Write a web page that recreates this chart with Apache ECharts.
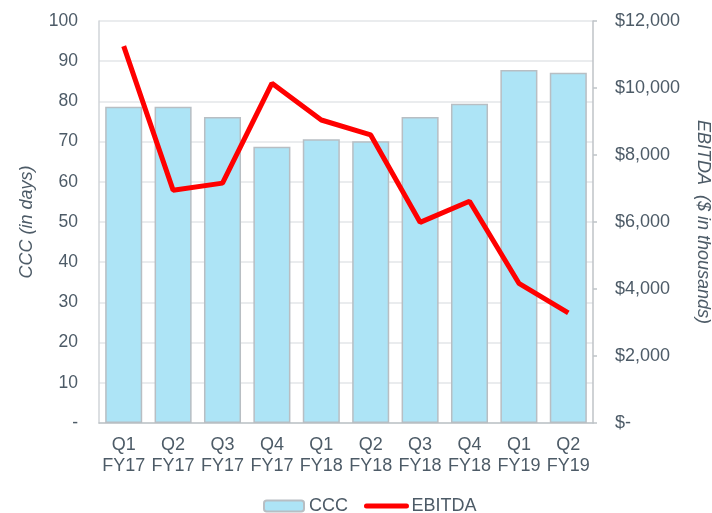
<!DOCTYPE html>
<html>
<head>
<meta charset="utf-8">
<script src="https://cdn.jsdelivr.net/npm/echarts@6/dist/echarts.min.js"></script>
<style>html,body{margin:0;padding:0;background:#fff}#c{width:712px;height:513px}</style>
</head>
<body>
<div id="c"></div>
<script>
const categories = ["Q1\nFY17","Q2\nFY17","Q3\nFY17","Q4\nFY17","Q1\nFY18","Q2\nFY18","Q3\nFY18","Q4\nFY18","Q1\nFY19","Q2\nFY19"];
const cccDays = [78.7, 78.7, 76.1, 68.7, 70.6, 70.1, 76.1, 79.4, 87.8, 87.1];
const ebitda = [11250, 6950, 7160, 10140, 9045, 8600, 5990, 6620, 4170, 3290];

const txt = '#4d5b67';
const font = 'Liberation Sans, Arial, sans-serif';
const chart = echarts.init(document.getElementById('c'));
chart.setOption({
  animation: false,
  textStyle: {fontFamily: font},
  grid: {left: 99, right: 119, top: 21, bottom: 90, containLabel: false, outerBoundsMode: 'none'},
  legend: {
    left: 263, top: 497, padding: 0, itemWidth: 40, itemHeight: 11, itemGap: 16,
    textStyle: {color: txt, fontSize: 18, fontFamily: font},
    data: [{name: 'CCC'}, {name: 'EBITDA', itemStyle: {opacity: 0}, lineStyle: {width: 5, cap: 'round', color: '#ff0000'}}]
  },
  xAxis: {
    type: 'category', data: categories,
    axisLine: {lineStyle: {color: '#bfc3c7', width: 1.5}},
    axisTick: {show: false},
    axisLabel: {color: txt, fontSize: 18, lineHeight: 21, margin: 12, interval: 0, fontFamily: font}
  },
  yAxis: [{
    type: 'value', min: 0, max: 100, interval: 10,
    name: 'CCC (in days)', nameLocation: 'middle', nameGap: 63, nameRotate: 90,
    nameTextStyle: {color: txt, fontSize: 18, fontStyle: 'italic', fontFamily: font},
    axisLine: {show: true, lineStyle: {color: '#d0d4d8', width: 1.5}},
    axisTick: {show: false},
    splitLine: {lineStyle: {color: '#e3e6e9', width: 1.5}},
    axisLabel: {color: txt, fontSize: 17.5, margin: 21, fontFamily: font,
      formatter: v => v === 0 ? '-' : String(v)}
  }, {
    type: 'value', min: 0, max: 12000, interval: 2000, position: 'right',
    name: 'EBITDA  ($ in thousands)', nameLocation: 'middle', nameGap: 101, nameRotate: -90,
    nameTextStyle: {color: txt, fontSize: 18, fontStyle: 'italic', fontFamily: font},
    axisLine: {show: true, lineStyle: {color: '#bfc3c7', width: 1.5}},
    axisTick: {show: true, length: 4, lineStyle: {color: '#bfc3c7', width: 1.5}},
    splitLine: {show: false},
    axisLabel: {color: txt, fontSize: 18, margin: 22, fontFamily: font,
      formatter: v => v === 0 ? '$-' : '$' + v.toLocaleString('en-US')}
  }],
  series: [{
    name: 'CCC', type: 'bar', data: cccDays, barWidth: '75%',
    itemStyle: {color: '#ade4f6', borderColor: '#b8bec3', borderWidth: 1.5}
  }, {
    name: 'EBITDA', type: 'line', yAxisIndex: 1, data: ebitda,
    symbol: 'none', lineStyle: {color: '#ff0000', width: 5}, itemStyle: {color: '#ff0000'}
  }]
});
</script>
</body>
</html>
